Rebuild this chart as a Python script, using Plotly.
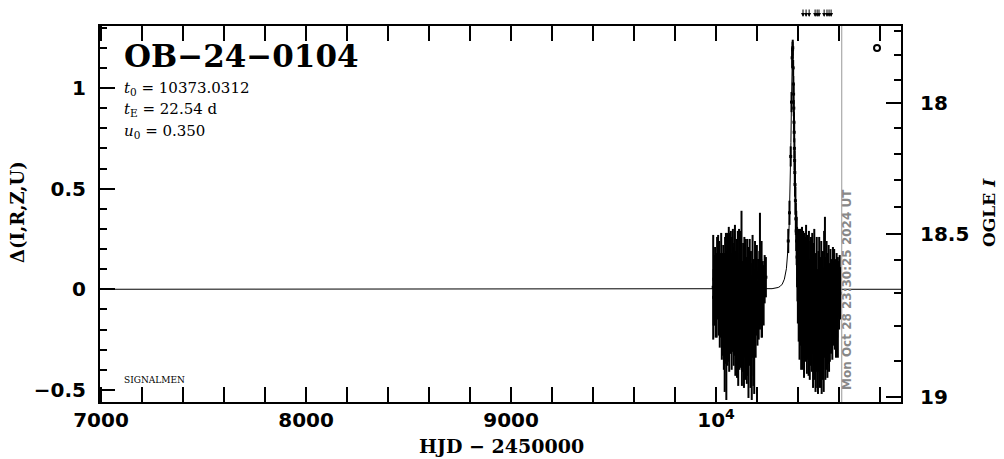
import plotly.graph_objects as go

# ---------------- data ----------------
# 2023 season (HJD-2450000, Delta flux, error)
s1_t = [9986, 9988, 9990, 9993, 9995, 9998, 10001, 10003, 10005, 10008, 10010, 10013, 10015, 10018,
        10020, 10023, 10025, 10028, 10030, 10033, 10035, 10038, 10040, 10042, 10044, 10046, 10048,
        10050, 10052, 10054, 10056, 10058, 10060, 10062, 10064, 10066, 10068, 10070, 10072, 10074,
        10076, 10078, 10080, 10082, 10084, 10086, 10088, 10090, 10092, 10094, 10096, 10098, 10100,
        10102, 10104, 10106, 10108, 10110, 10112, 10114, 10116, 10118, 10120, 10122, 10124, 10126,
        10128, 10130, 10132, 10134, 10136, 10138, 10140, 10142, 10144, 10146, 10148, 10150, 10152,
        10154, 10156, 10158, 10160, 10162, 10164, 10166, 10168, 10170, 10172, 10174, 10176, 10178,
        10180, 10182, 10184, 10186, 10188, 10190, 10193, 10196, 10199, 10202, 10205, 10208, 10211,
        10214, 10217, 10220, 10222, 10224, 10228, 10232, 10237, 10243]
s1_d = [0.01, -0.04, 0.05, -0.02, 0.08, -0.06, 0.03, -0.10, 0.06, -0.03, 0.10, -0.08, 0.02, -0.12,
        0.04, -0.05, 0.12, -0.15, 0.00, -0.09, 0.07, -0.18, -0.02, -0.25, 0.05, -0.12, 0.10,
        -0.28, -0.04, 0.08, -0.16, 0.02, -0.10, 0.14, -0.20, -0.01, 0.06, -0.13, 0.09, -0.07,
        -0.22, 0.03, -0.11, 0.12, -0.05, -0.17, 0.04, -0.09, 0.10, -0.24, -0.02, -0.14, 0.07,
        -0.21, -0.06, 0.05, -0.30, -0.08, 0.11, -0.15, -0.03, -0.19, 0.06, -0.10, 0.12, -0.26,
        -0.04, -0.17, 0.03, -0.12, -0.28, 0.01, -0.09, -0.22, 0.05, -0.14, -0.05, -0.25, 0.02,
        -0.18, -0.08, -0.31, -0.03, -0.16, 0.06, -0.11, -0.27, -0.02, -0.19, -0.33, -0.07, 0.04,
        -0.13, -0.24, -0.04, -0.30, -0.10, 0.02, -0.16, -0.06, 0.08, -0.12, 0.00, -0.05, 0.06,
        0.09, -0.04, 0.03, 0.00, -0.08, 0.01, -0.03, 0.05, 0.06]
s1_e = [0.26, 0.14, 0.12, 0.16, 0.13, 0.18, 0.15, 0.14, 0.20, 0.12, 0.17, 0.15, 0.22, 0.17,
        0.14, 0.19, 0.16, 0.20, 0.18, 0.24, 0.15, 0.22, 0.20, 0.26, 0.21, 0.25, 0.18,
        0.27, 0.23, 0.20, 0.22, 0.19, 0.26, 0.17, 0.21, 0.24, 0.22, 0.19, 0.20, 0.25,
        0.18, 0.23, 0.20, 0.18, 0.26, 0.21, 0.19, 0.24, 0.22, 0.19, 0.21, 0.26, 0.18,
        0.23, 0.20, 0.24, 0.18, 0.22, 0.19, 0.25, 0.21, 0.20, 0.23, 0.19, 0.27, 0.22,
        0.18, 0.24, 0.20, 0.22, 0.21, 0.25, 0.19, 0.23, 0.20, 0.24, 0.21, 0.22, 0.23,
        0.25, 0.20, 0.23, 0.24, 0.22, 0.19, 0.26, 0.22, 0.21, 0.24, 0.22, 0.20, 0.23,
        0.21, 0.24, 0.19, 0.22, 0.20, 0.22, 0.18, 0.17, 0.14, 0.16, 0.15, 0.20, 0.13,
        0.29, 0.14, 0.12, 0.24, 0.16, 0.13, 0.15, 0.12, 0.10]

# 2024 season, including the event
s2_t = [10352, 10358, 10364, 10368, 10371, 10373, 10374, 10376, 10377, 10378, 10379, 10380, 10381,
        10382, 10383, 10384, 10385, 10387, 10389, 10391, 10393, 10395, 10397, 10399, 10401, 10403,
        10405, 10407, 10409, 10411, 10413, 10415, 10417, 10419, 10421, 10423, 10425, 10427, 10429,
        10431, 10433, 10435, 10437, 10439, 10441, 10443, 10445, 10447, 10449, 10451, 10453, 10455,
        10457, 10459, 10461, 10463, 10465, 10467, 10469, 10471, 10473, 10475, 10477, 10479, 10481,
        10483, 10485, 10487, 10489, 10491, 10493, 10495, 10497, 10499, 10501, 10503, 10505, 10507,
        10509, 10511, 10513, 10515, 10517, 10519, 10521, 10523, 10525, 10527, 10529, 10531, 10533,
        10535, 10537, 10539, 10541, 10543, 10545, 10547, 10549, 10551, 10553, 10555, 10558, 10561,
        10564, 10567, 10570, 10573, 10576, 10579, 10582, 10585, 10588, 10591, 10594, 10597, 10600,
        10603, 10606]
s2_d = [0.24, 0.38, 0.66, 0.93, 1.15, 1.19, 1.20, 1.10, 1.02, 0.97, 0.90, 0.83, 0.78,
        0.70, 0.64, 0.58, 0.52, 0.44, 0.35, 0.29, 0.24, 0.16, 0.12, 0.05, 0.10, -0.02,
        0.07, -0.10, 0.03, -0.06, 0.09, -0.14, -0.01, 0.11, -0.08, -0.18, 0.04, -0.05, -0.20,
        0.06, -0.11, 0.00, -0.15, 0.08, -0.07, -0.22, 0.02, -0.12, -0.03, -0.17, 0.07, -0.09,
        -0.24, 0.01, -0.13, 0.05, -0.06, -0.19, 0.04, -0.10, -0.26, -0.02, -0.15, 0.06, -0.21,
        -0.08, -0.28, -0.04, -0.16, 0.03, -0.25, -0.11, -0.30, -0.05, -0.18, 0.05, -0.13, -0.27,
        -0.07, -0.20, 0.02, -0.31, -0.10, -0.22, -0.03, -0.16, -0.26, 0.06, -0.12, 0.10, -0.21,
        -0.06, -0.17, 0.03, -0.11, -0.24, -0.04, -0.14, 0.02, -0.19, -0.08, -0.13, 0.01, -0.10,
        -0.03, -0.15, 0.02, -0.07, 0.04, -0.12, -0.02, -0.14, 0.03, -0.06, -0.09, 0.00, -0.04,
        0.05, -0.02]
s2_e = [0.06, 0.06, 0.05, 0.05, 0.05, 0.04, 0.04, 0.04, 0.04, 0.05, 0.04, 0.05, 0.05,
        0.05, 0.05, 0.06, 0.06, 0.07, 0.08, 0.10, 0.12, 0.15, 0.18, 0.22, 0.20, 0.24,
        0.22, 0.25, 0.27, 0.22, 0.21, 0.26, 0.23, 0.20, 0.27, 0.22, 0.25, 0.21, 0.24,
        0.22, 0.23, 0.26, 0.21, 0.24, 0.22, 0.20, 0.25, 0.23, 0.21, 0.26, 0.22, 0.24,
        0.21, 0.23, 0.25, 0.21, 0.26, 0.22, 0.24, 0.21, 0.23, 0.25, 0.22, 0.24, 0.24,
        0.21, 0.23, 0.22, 0.25, 0.23, 0.24, 0.21, 0.22, 0.24, 0.23, 0.21, 0.25, 0.22,
        0.23, 0.24, 0.22, 0.21, 0.25, 0.23, 0.22, 0.24, 0.25, 0.23, 0.22, 0.26, 0.24,
        0.22, 0.23, 0.21, 0.24, 0.20, 0.22, 0.23, 0.20, 0.22, 0.21, 0.23, 0.19, 0.22,
        0.18, 0.20, 0.19, 0.21, 0.16, 0.18, 0.17, 0.20, 0.15, 0.18, 0.25, 0.14, 0.16,
        0.12, 0.13]

# model light curve
model_t = [6995, 10173, 10223, 10273, 10303, 10313, 10323, 10333, 10343, 10348, 10353, 10357, 10360,
           10363, 10365, 10367, 10369, 10371, 10373, 10375, 10377, 10379, 10381, 10383, 10386,
           10389, 10393, 10398, 10403, 10413, 10423, 10433, 10443, 10473, 10523, 10573, 10902]
model_d = [0.0, 0.0, 0.001, 0.003, 0.009, 0.015, 0.026, 0.050, 0.102, 0.151, 0.231, 0.333, 0.444,
           0.599, 0.730, 0.881, 1.040, 1.168, 1.220, 1.168, 1.040, 0.881, 0.730, 0.599, 0.444,
           0.333, 0.231, 0.151, 0.102, 0.050, 0.026, 0.015, 0.009, 0.003, 0.001, 0.0, 0.0]

# axes
x_tick_vals = [7000, 8000, 9000, 10000]
x_tick_text = ["7000", "8000", "9000", "10<sup>4</sup>"]
y_tick_vals = [-0.5, 0, 0.5, 1]
y_tick_text = ["\u22120.5", "0", "0.5", "1"]
# OGLE I magnitude scale on right axis (position in Delta units)
ogle_major_pos = [0.925, 0.275, -0.534]
ogle_major_text = ["18", "18.5", "19"]
ogle_minor_pos = [1.282, 1.166, 1.041, 0.801, 0.672, 0.541, 0.408, 0.146, -0.020, -0.181, -0.355]

arrow_times = [10424, 10439, 10454, 10483, 10493, 10502, 10527, 10541, 10551, 10561]
now_time = 10613
symbol_t = [10785]
symbol_d = [1.199]

event_name = "OB\u221224\u22120104"
param_lines = ["<i>t</i><sub>0</sub> = 10373.0312",
               "<i>t</i><sub>E</sub> = 22.54 d",
               "<i>u</i><sub>0</sub> = 0.350"]

XR = [6995, 10902]
YR = [-0.56, 1.308]

# page body has an 8 px margin: lay the figure out in page pixels minus 8
OFF = 8
W, H = 1004 - OFF, 459 - OFF
L, T = 100 - OFF, 26 - OFF
R = W - (901 - OFF)
B = H - (402 - OFF)
pw, ph = W - L - R, H - T - B

# ---------------- figure ----------------
fig = go.Figure()

fig.add_trace(go.Scatter(x=model_t, y=model_d, mode="lines",
                         line=dict(color="black", width=1), showlegend=False, hoverinfo="skip"))

for tt, dd, ee in [(s1_t, s1_d, s1_e), (s2_t, s2_d, s2_e)]:
    fig.add_trace(go.Scatter(x=tt, y=dd, mode="markers",
                             marker=dict(symbol="square", size=3, color="black"),
                             error_y=dict(type="data", array=ee, visible=True, color="black",
                                          thickness=2, width=0),
                             showlegend=False))

fig.add_trace(go.Scatter(x=symbol_t, y=symbol_d, mode="markers",
                         marker=dict(symbol="circle-open", size=6, color="black",
                                     line=dict(width=2, color="black")),
                         showlegend=False))

# right axis dummy trace
fig.add_trace(go.Scatter(x=[XR[0]], y=[0], yaxis="y2", mode="markers",
                         marker=dict(opacity=0), showlegend=False, hoverinfo="skip"))

fig.add_shape(type="line", x0=now_time, x1=now_time, y0=0, y1=1, xref="x", yref="paper",
              line=dict(color="#999999", width=1))

tickfont = dict(family="DejaVu Sans", size=20, color="black", weight="bold")

fig.update_layout(
    width=W, height=H,
    margin=dict(l=L, r=R, t=T, b=B, autoexpand=False),
    paper_bgcolor="white", plot_bgcolor="white",
    xaxis=dict(range=XR, tickmode="array", tickvals=x_tick_vals, ticktext=x_tick_text,
               ticks="inside", ticklen=15, tickwidth=2, tickcolor="black",
               minor=dict(dtick=200, tick0=7000, ticks="inside", ticklen=7, tickwidth=2,
                          tickcolor="black"),
               showline=True, linewidth=2, linecolor="black", mirror="allticks",
               showgrid=False, zeroline=False, tickfont=tickfont, ticklabelstandoff=-1),
    yaxis=dict(range=YR, tickmode="array", tickvals=y_tick_vals, ticktext=y_tick_text,
               ticks="inside", ticklen=15, tickwidth=2, tickcolor="black",
               minor=dict(dtick=0.1, tick0=0, ticks="inside", ticklen=7, tickwidth=2,
                          tickcolor="black"),
               showline=True, linewidth=2, linecolor="black", mirror=True,
               showgrid=False, zeroline=False, tickfont=tickfont, ticklabelstandoff=8),
    yaxis2=dict(range=YR, overlaying="y", side="right", tickmode="array",
                tickvals=ogle_major_pos, ticktext=ogle_major_text,
                ticks="inside", ticklen=15, tickwidth=2, tickcolor="black",
                minor=dict(tickmode="array", tickvals=ogle_minor_pos, ticks="inside", ticklen=7,
                           tickwidth=2, tickcolor="black"),
                showline=False, showgrid=False, zeroline=False, tickfont=tickfont,
                ticklabelstandoff=18),
)

# annotations positioned in page pixels
ann = []
ann.append(dict(x=122, y=56, text=event_name, showarrow=False,
                xanchor="left", yanchor="middle",
                font=dict(family="DejaVu Serif", size=31, color="black", weight="bold")))
for txt, yp in zip(param_lines, [88, 110, 131]):
    ann.append(dict(x=122, y=yp, text=txt, showarrow=False, xanchor="left", yanchor="middle",
                    font=dict(family="DejaVu Serif", size=15, color="black")))
ann.append(dict(x=122, y=380, text="SIGNALMEN", showarrow=False, xanchor="left",
                yanchor="middle", font=dict(family="DejaVu Serif", size=9, color="black")))
ann.append(dict(x=501, y=446, text="HJD \u2212 2450000", showarrow=False, xanchor="center",
                yanchor="middle", font=dict(family="DejaVu Serif", size=19, color="black",
                                             weight="bold")))
ann.append(dict(x=17, y=212, text="\u0394(I,R,Z,U)", showarrow=False, textangle=-90,
                xanchor="center", yanchor="middle",
                font=dict(family="DejaVu Serif", size=18, color="black", weight="bold")))
ann.append(dict(x=989, y=213, text="OGLE <i>I</i>", showarrow=False, textangle=-90,
                xanchor="center", yanchor="middle",
                font=dict(family="DejaVu Serif", size=17, color="black", weight="bold")))
ann.append(dict(x=847, y=290, text="Mon Oct 28 23:30:25 2024 UT", showarrow=False,
                textangle=-90, xanchor="center", yanchor="middle",
                font=dict(family="DejaVu Sans", size=12, color="#888888", weight="bold")))

for a in ann:
    a["xref"] = "paper"
    a["yref"] = "paper"
    a["x"] = (a["x"] - OFF - L) / pw
    a["y"] = 1 - (a["y"] - OFF - T) / ph

# arrow tips at page y=17, tails at the page top
for t in arrow_times:
    ann.append(dict(x=t, y=1 + (26 - 17) / ph, xref="x", yref="paper", text="", showarrow=True,
                    ax=0, ay=-(17 - OFF), arrowhead=2, arrowsize=0.8, arrowwidth=1,
                    arrowcolor="black"))

fig.update_layout(annotations=ann)

fig.write_html("out.html")
